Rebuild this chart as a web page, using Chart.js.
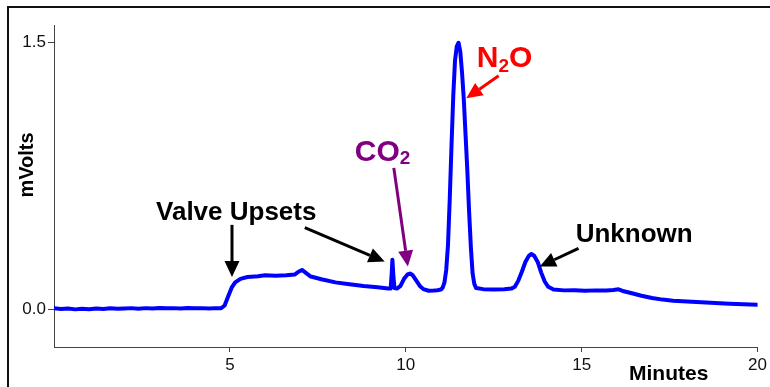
<!DOCTYPE html>
<html>
<head>
<meta charset="utf-8">
<script src="https://cdn.jsdelivr.net/npm/chart.js@4.4.1/dist/chart.umd.min.js"></script>
<style>
  html, body { margin: 0; padding: 0; background: #fff; }
  #wrap { width: 770px; height: 387px; }
</style>
</head>
<body>
<div id="wrap"><canvas id="chart" width="770" height="387"></canvas></div>
<script>
// chromatogram trace, minutes vs mVolts
const times = [
  0, 0.2, 0.4, 0.6, 0.8, 1.0, 1.2, 1.4, 1.6, 1.8, 2.0, 2.2, 2.4, 2.6, 2.8, 3.0, 3.2, 3.4, 3.6, 3.8, 4.0, 4.2, 4.4, 4.6, 4.75,
  4.85, 4.95, 5.05, 5.15, 5.3, 5.5, 5.8, 6.0, 6.3, 6.6, 6.85, 6.95, 7.05, 7.15, 7.3, 7.6, 8.0, 8.4, 8.8, 9.2, 9.5, 9.57,
  9.6, 9.62, 9.65, 9.68, 9.75, 9.85, 9.95, 10.05, 10.12, 10.2, 10.3, 10.4, 10.5, 10.65, 10.8, 10.9,
  11.0, 11.05, 11.1, 11.15, 11.2, 11.25, 11.3, 11.35, 11.4, 11.45, 11.5, 11.55, 11.6, 11.65, 11.7, 11.75, 11.8, 11.85, 11.9, 11.95,
  12.0, 12.2, 12.5, 12.8, 13.0, 13.1, 13.2, 13.3, 13.4, 13.5, 13.57, 13.65, 13.75, 13.85, 13.95, 14.05, 14.2,
  14.5, 14.8, 15.1, 15.4, 15.7, 15.9, 16.05, 16.2, 16.4, 16.7, 17.0, 17.3, 17.6, 18.0, 18.4, 18.8, 19.2, 19.6, 20.0
];
const signal = [
  0.004, 0.000, 0.003, -0.002, 0.002, -0.001, 0.003, 0.000, 0.004, 0.001, 0.003, 0.005, 0.002, 0.005, 0.003, 0.006, 0.004, 0.005, 0.003, 0.006, 0.004, 0.005, 0.003, 0.005, 0.004,
  0.02, 0.07, 0.12, 0.15, 0.17, 0.18, 0.185, 0.19, 0.187, 0.19, 0.195, 0.21, 0.22, 0.205, 0.183, 0.168, 0.15, 0.14, 0.13, 0.122, 0.116, 0.115,
  0.2, 0.278, 0.18, 0.118, 0.115, 0.13, 0.17, 0.195, 0.2, 0.19, 0.16, 0.13, 0.112, 0.103, 0.104, 0.106,
  0.11, 0.12, 0.15, 0.22, 0.36, 0.62, 0.92, 1.20, 1.40, 1.48, 1.50, 1.45, 1.33, 1.18, 0.98, 0.78, 0.55, 0.35, 0.20, 0.14,
  0.118, 0.112, 0.11, 0.112, 0.115, 0.125, 0.16, 0.21, 0.265, 0.30, 0.31, 0.30, 0.265, 0.205, 0.155, 0.125, 0.11,
  0.105, 0.106, 0.103, 0.105, 0.104, 0.107, 0.111, 0.10, 0.09, 0.075, 0.062, 0.053, 0.047, 0.043, 0.038, 0.034, 0.03, 0.027, 0.024
];
const xTicks = [5, 10, 15, 20];
const yTicks = [0, 1.5];

const FONT = "'Liberation Sans', Arial, Helvetica, sans-serif";

// arrows in data units [minutes, mV]
const arrows = [
  { from: [5.06, 0.474], to: [5.06, 0.180], color: "#000" },
  { from: [7.13, 0.459], to: [9.40, 0.267], color: "#000" },
  { from: [9.66, 0.795], to: [10.06, 0.239], color: "#800080" },
  { from: [12.64, 1.314], to: [11.72, 1.187], color: "#ff0000" },
  { from: [14.91, 0.342], to: [13.81, 0.239], color: "#000" },
];

// labels: anchor = left / baseline in data units
const labels = [
  { at: [2.90, 0.502], color: "#000", parts: [{ t: "Valve Upsets", s: 26 }] },
  { at: [8.55, 0.835], color: "#800080", parts: [{ t: "CO", s: 30 }, { t: "2", s: 19, dy: 3 }] },
  { at: [12.02, 1.365], color: "#ff0000", parts: [{ t: "N", s: 30 }, { t: "2", s: 19, dy: 5 }, { t: "O", s: 30 }] },
  { at: [14.83, 0.378], color: "#000", parts: [{ t: "Unknown", s: 26 }] },
];

function drawArrow(ctx, x1, y1, x2, y2, color) {
  const ang = Math.atan2(y2 - y1, x2 - x1);
  const headLen = 16, headW = 7.5;
  const bx = x2 - Math.cos(ang) * headLen;
  const by = y2 - Math.sin(ang) * headLen;
  ctx.save();
  ctx.strokeStyle = color;
  ctx.fillStyle = color;
  ctx.lineWidth = 3;
  ctx.beginPath();
  ctx.moveTo(x1, y1);
  ctx.lineTo(bx, by);
  ctx.stroke();
  ctx.beginPath();
  ctx.moveTo(x2, y2);
  ctx.lineTo(bx + Math.sin(ang) * headW, by - Math.cos(ang) * headW);
  ctx.lineTo(bx - Math.sin(ang) * headW, by + Math.cos(ang) * headW);
  ctx.closePath();
  ctx.fill();
  ctx.restore();
}

const annotations = {
  id: "annotations",
  beforeDraw(chart) {
    const ctx = chart.ctx;
    ctx.save();
    ctx.strokeStyle = "#111";
    ctx.lineWidth = 2;
    ctx.strokeRect(8, 7, 800, 420);
    ctx.restore();
  },
  afterDatasetsDraw(chart) {
    const { ctx, scales: { x, y } } = chart;
    arrows.forEach((a) => {
      drawArrow(ctx,
        x.getPixelForValue(a.from[0]), y.getPixelForValue(a.from[1]),
        x.getPixelForValue(a.to[0]), y.getPixelForValue(a.to[1]), a.color);
    });
    ctx.save();
    ctx.textBaseline = "alphabetic";
    ctx.textAlign = "left";
    labels.forEach((l) => {
      let px = x.getPixelForValue(l.at[0]);
      const py = y.getPixelForValue(l.at[1]);
      ctx.fillStyle = l.color;
      l.parts.forEach((p) => {
        ctx.font = "bold " + p.s + "px " + FONT;
        ctx.fillText(p.t, px, py + (p.dy || 0));
        px += ctx.measureText(p.t).width;
      });
    });
    // axis titles
    ctx.fillStyle = "#000";
    ctx.font = "bold 21px " + FONT;
    ctx.fillText("Minutes", 629, 380);
    ctx.translate(33, 165);
    ctx.rotate(-Math.PI / 2);
    ctx.textAlign = "center";
    ctx.font = "bold 20px " + FONT;
    ctx.fillText("mVolts", 0, 0);
    ctx.restore();
  },
};

new Chart(document.getElementById("chart"), {
  type: "line",
  data: {
    datasets: [
      {
        data: times.map((t, i) => ({ x: t, y: signal[i] })),
        borderColor: "#0000ff",
        borderWidth: 4,
        borderJoinStyle: "round",
        borderCapStyle: "round",
        pointRadius: 0,
        tension: 0,
        fill: false,
      },
    ],
  },
  options: {
    responsive: false,
    devicePixelRatio: 1,
    animation: false,
    layout: { padding: { left: 8, top: 25, right: 12, bottom: 0 } },
    plugins: { legend: { display: false }, tooltip: { enabled: false } },
    scales: {
      x: {
        type: "linear",
        min: 0,
        max: 20,
        afterBuildTicks: (s) => { s.ticks = xTicks.map((v) => ({ value: v })); },
        afterFit: (s) => { s.height = 40; },
        ticks: { font: { size: 17, family: FONT }, color: "#111", padding: 3, maxRotation: 0, autoSkip: false },
        grid: { drawOnChartArea: false, drawTicks: true, tickLength: 5, color: "#444" },
        border: { color: "#444", width: 1 },
      },
      y: {
        min: -0.214,
        max: 1.6,
        afterBuildTicks: (s) => { s.ticks = yTicks.map((v) => ({ value: v })); },
        afterFit: (s) => { s.width = 46; },
        ticks: { font: { size: 17, family: FONT }, color: "#111", padding: 2, callback: (v) => v.toFixed(1) },
        grid: { drawOnChartArea: false, drawTicks: true, tickLength: 6, color: "#444" },
        border: { color: "#444", width: 1 },
      },
    },
  },
  plugins: [annotations],
});
</script>
</body>
</html>
